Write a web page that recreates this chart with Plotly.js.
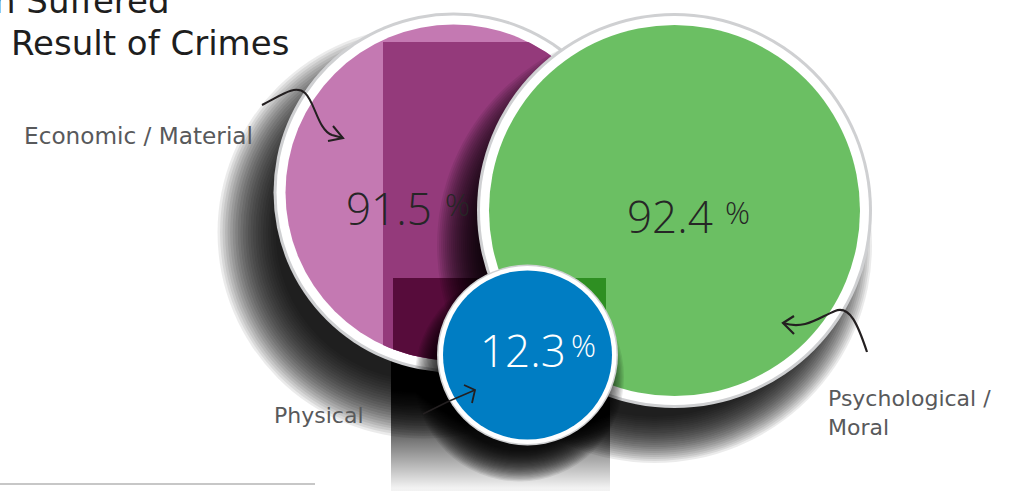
<!DOCTYPE html>
<html><head><meta charset="utf-8">
<script src="https://cdn.plot.ly/plotly-3.0.1.min.js"></script>
<style>html,body{margin:0;padding:0;background:#fff;overflow:hidden}</style>
</head><body>
<div id="chart" style="width:1022px;height:491px"></div>
<script>
// ---------- data ----------
const categories = ['Economic / Material', 'Psychological / Moral', 'Physical'];
const values = [91.5, 92.4, 12.3];
const titleLines = ['n Suffered', 'Result of Crimes'];
const unit = '%';

// ---------- layout (positions / sizes / styles) ----------
const centerX = [453.5, 674.5, 527.5];
const centerY = [192.5, 210.5, 355];
const outerR = [180, 197.5, 90.5];
const ringW = [12, 12, 6];
const fillColors = ['#C479B2', '#6BBF63', '#007DC3'];
const valueColors = ['#262626', '#262626', '#FFFFFF'];
const valueLeft = [344, 625, 478];
const valueMid = [207.5, 215.5, 349.5];
const unitLeft = [443, 723, 569];
const unitMid = [204, 212, 345];
const labelX = [22, 826, 272];
const labelY = [135.5, 413, 415.5];
const labelSize = [23.2, 22, 22];
const labelText = ['Economic / Material', 'Psychological /<br>Moral', 'Physical'];
const shadowDX = [-30, -20, -8];
const shadowDY = [40, 35, 22];
const shadowIn = [32, 26, 16];
const shadowOut = [26, 20, 14];

function circlePoly(cx, cy, r, n) {
  const p = [];
  for (let i = 0; i < n; i++) {
    const a = 2 * Math.PI * i / n;
    p.push([cx + r * Math.cos(a), cy + r * Math.sin(a)]);
  }
  return p;
}
function clip(poly, axis, val, ge) {
  const idx = axis === 'x' ? 0 : 1;
  const ins = p => ge ? p[idx] >= val : p[idx] <= val;
  const out = [];
  for (let i = 0; i < poly.length; i++) {
    const a = poly[i], b = poly[(i + 1) % poly.length];
    const ia = ins(a), ib = ins(b);
    if (ia) out.push(a);
    if (ia !== ib) {
      const t = (val - a[idx]) / (b[idx] - a[idx]);
      out.push([a[0] + t * (b[0] - a[0]), a[1] + t * (b[1] - a[1])]);
    }
  }
  return out;
}
function polyTrace(poly, color) {
  const pts = poly.concat([poly[0]]);
  return {type: 'scatter', mode: 'lines', x: pts.map(p => p[0]), y: pts.map(p => p[1]),
    fill: 'toself', fillcolor: color, line: {width: 0, color: color}, hoverinfo: 'skip'};
}
function disc(cx, cy, d, color) {
  return {type: 'scatter', mode: 'markers', x: [cx], y: [cy], hoverinfo: 'skip',
    marker: {size: d, color: color, line: {width: 0}}};
}
function shadow(i) {
  const n = 24, xs = [], ys = [], ss = [];
  for (let k = 0; k < n; k++) {
    const r = outerR[i] - shadowIn[i] + (shadowIn[i] + shadowOut[i]) * (k / (n - 1));
    xs.push(centerX[i] + shadowDX[i]); ys.push(centerY[i] + shadowDY[i]); ss.push(2 * r);
  }
  return {type: 'scatter', mode: 'markers', x: xs, y: ys, hoverinfo: 'skip',
    marker: {size: ss, color: 'rgba(0,0,0,0.11)', line: {width: 0}}};
}
function circleSet(i) {
  const r = outerR[i];
  return [
    disc(centerX[i], centerY[i], 2 * r, '#CFD0D2'),
    disc(centerX[i], centerY[i], 2 * (r - Math.max(1.5, ringW[i] * 0.25)), '#FFFFFF'),
    disc(centerX[i], centerY[i], 2 * (r - ringW[i]), fillColors[i])
  ];
}

const traces = [];
// soft shadow under the dark band
traces.push({type: 'scatter', mode: 'lines', x: [391, 610, 610, 391, 391], y: [340, 340, 491, 491, 340],
  fill: 'toself', line: {width: 0}, hoverinfo: 'skip',
  fillgradient: {type: 'vertical', start: 380, stop: 488,
    colorscale: [[0, 'rgba(0,0,0,0.97)'], [0.5, 'rgba(0,0,0,0.6)'], [1, 'rgba(0,0,0,0.05)']]}});
// economic / material
traces.push(shadow(0));
traces.push(...circleSet(0));
const pinkFill = circlePoly(centerX[0], centerY[0], outerR[0] - ringW[0], 240);
traces.push(polyTrace(clip(clip(pinkFill, 'x', 383, true), 'y', 42, true), '#943A7B'));
traces.push(polyTrace(clip(clip(clip(pinkFill, 'x', 393, true), 'x', 606, false), 'y', 278, true), '#570C3B'));
// psychological / moral
traces.push(shadow(1));
traces.push(...circleSet(1));
const greenFill = circlePoly(centerX[1], centerY[1], outerR[1] - ringW[1], 240);
traces.push(polyTrace(clip(clip(clip(greenFill, 'x', 393, true), 'x', 606, false), 'y', 278, true), '#2E8F22'));
// physical
traces.push(shadow(2));
traces.push(...circleSet(2));

const annotations = [];
annotations.push({text: titleLines[0], x: 172, y: 1.2, xanchor: 'right', yanchor: 'middle', showarrow: false,
  font: {family: 'DejaVu Sans', size: 34, color: '#1E1E1E'}});
annotations.push({text: titleLines[1], x: 9, y: 43.2, xanchor: 'left', yanchor: 'middle', showarrow: false,
  font: {family: 'DejaVu Sans', size: 34, color: '#1E1E1E'}});
for (let i = 0; i < categories.length; i++) {
  annotations.push({text: labelText[i], x: labelX[i], y: labelY[i], xanchor: 'left', yanchor: 'middle',
    align: 'left', showarrow: false, font: {family: 'DejaVu Sans', size: labelSize[i], color: '#58595B'}});
  annotations.push({text: values[i].toFixed(1), x: valueLeft[i], y: valueMid[i],
    xanchor: 'left', yanchor: 'middle', showarrow: false,
    font: {family: 'Open Sans', size: 44, weight: 300, color: valueColors[i]}});
  annotations.push({text: unit, x: unitLeft[i], y: unitMid[i],
    xanchor: 'left', yanchor: 'middle', showarrow: false,
    font: {family: 'Open Sans', size: 31, weight: 300, color: valueColors[i]}});
}

const ink = {color: '#231F20', width: 2};
const shapes = [
  {type: 'path', xref: 'x', yref: 'y', layer: 'above', line: ink,
   path: 'M 262 105 C 280 96, 295 84, 305 93 C 315 102, 318 130, 332 135 L 343 138'},
  {type: 'path', xref: 'x', yref: 'y', layer: 'above', line: ink,
   path: 'M 333 126 L 343 138 L 328 141'},
  {type: 'path', xref: 'x', yref: 'y', layer: 'above', line: {color: '#231F20', width: 2.2},
   path: 'M 867 352 C 858 325, 850 305, 835 311 C 818 318, 805 330, 783 323'},
  {type: 'path', xref: 'x', yref: 'y', layer: 'above', line: {color: '#231F20', width: 2.2},
   path: 'M 794 316 L 783 323 L 794 334'},
  {type: 'path', xref: 'x', yref: 'y', layer: 'above', line: {color: '#231F20', width: 1.5},
   path: 'M 423 414 C 440 405, 455 398, 475 390'},
  {type: 'path', xref: 'x', yref: 'y', layer: 'above', line: {color: '#231F20', width: 1.8},
   path: 'M 464 385 L 475 390 L 472 403'},
  {type: 'line', xref: 'x', yref: 'y', layer: 'above', x0: 0, x1: 315, y0: 484, y1: 484,
   line: {color: '#B5B5B5', width: 1.5}}
];

const layout = {
  width: 1022, height: 491, autosize: false,
  margin: {l: 0, r: 0, t: 0, b: 0, pad: 0},
  paper_bgcolor: '#FFFFFF', plot_bgcolor: '#FFFFFF', showlegend: false,
  xaxis: {range: [0, 1022], visible: false, fixedrange: true},
  yaxis: {range: [491, 0], visible: false, fixedrange: true},
  annotations: annotations, shapes: shapes
};
Plotly.newPlot('chart', traces, layout, {staticPlot: true, displayModeBar: false});
</script>
</body></html>
